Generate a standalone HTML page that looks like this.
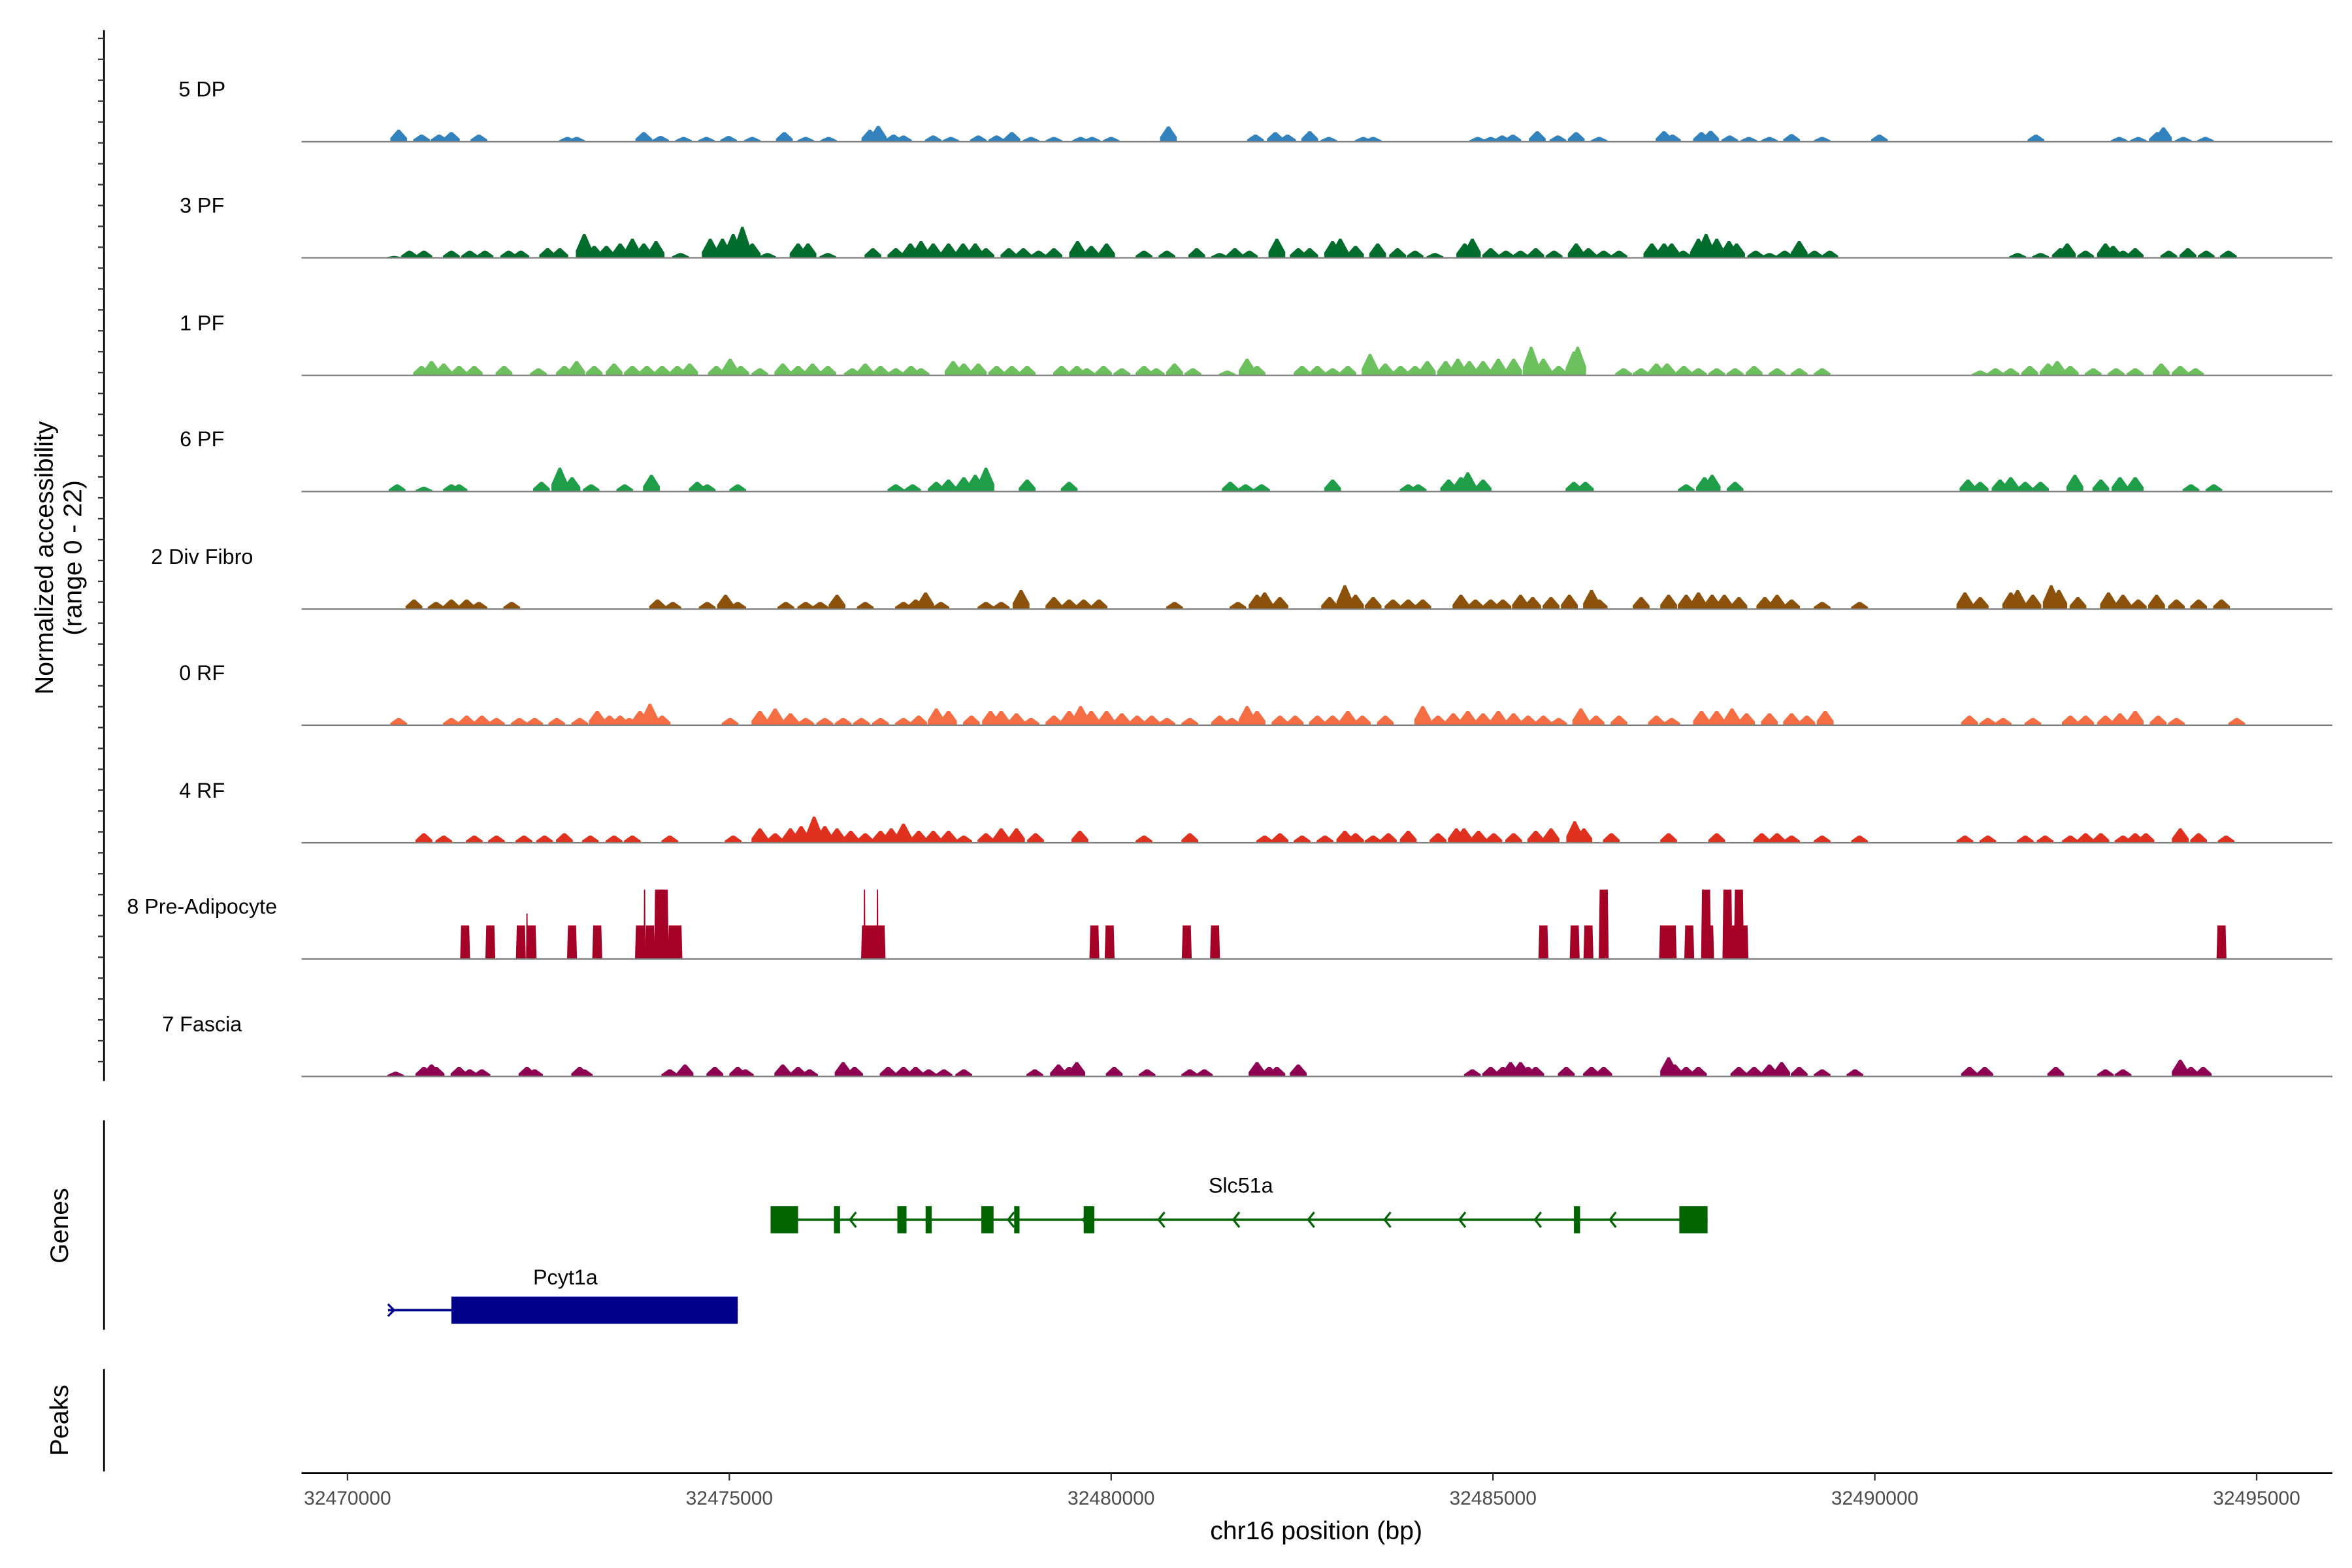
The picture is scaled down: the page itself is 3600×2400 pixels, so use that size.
<!DOCTYPE html>
<html><head><meta charset="utf-8">
<style>
html,body{margin:0;padding:0;background:#fff;}
svg{display:block;}
text{font-family:"Liberation Sans",Arial,sans-serif;}
</style></head>
<body>
<svg id="chart" width="3600" height="2400" viewBox="0 0 1560 1040" xmlns="http://www.w3.org/2000/svg">
<g id="axes"></g>
<g id="tracks"></g>
<g id="genes"></g>
</svg>
<script>
// ---- data (positions in kb offset from 32470000, values in normalized units) ----
const baseBp = 32470000;
const trackNames = ["5 DP","3 PF","1 PF","6 PF","2 Div Fibro","0 RF","4 RF","8 Pre-Adipocyte","7 Fascia"];
const trackColors = ["#3182bd","#006d2c","#6cc15e","#1f9e4a","#8c510a","#f46d43","#e0301e","#a50026","#8e0152"];
const xTickValues = [32470000,32475000,32480000,32485000,32490000,32495000];

const pos5DP = [0.67,0.97,1.2,1.36,1.72,2.88,3.0,3.88,4.1,4.4,4.7,4.99,5.3,5.72,6.0,6.3,6.84,6.95,7.15,7.28,7.67,7.9,8.26,8.5,8.7,8.95,9.25,9.6,9.75,10.0,10.75,11.89,12.15,12.31,12.6,12.85,13.3,13.43,14.8,14.97,15.12,15.26,15.58,15.85,16.09,16.39,17.24,17.35,17.73,17.85,18.1,18.35,18.62,18.91,19.31,20.06,22.11,23.2,23.45,23.7,23.78,24.04,24.33];
const val5DP = [2.5,1.5,1.5,2,1.5,1,1,2,1.2,1,1,1.2,1,2,1,1,2.5,3.3,1.5,1.3,1.3,1,1.3,1.3,2,1,1,1,1,1,3.2,1.5,2,1.5,2.2,1,1,1,1,1,1.3,1.5,2.2,1.3,2,1,2.2,1.5,2,2.3,1.3,1,1,1.6,1,1.5,1.5,1,1,2,3,1,1];

const pos3PF = [0.61,0.81,1.0,1.36,1.6,1.8,2.11,2.27,2.62,2.78,3.1,3.23,3.39,3.57,3.73,3.88,4.04,4.36,4.75,4.91,5.05,5.17,5.3,5.5,5.9,6.03,6.29,6.88,7.18,7.37,7.51,7.67,7.87,8.06,8.22,8.36,8.66,8.85,9.05,9.25,9.56,9.74,9.94,10.43,10.73,11.12,11.42,11.62,11.81,12.17,12.45,12.6,12.9,13.0,13.2,13.49,13.75,13.98,14.24,14.63,14.73,14.97,15.17,15.36,15.56,15.8,16.09,16.25,16.45,16.65,17.08,17.24,17.34,17.49,17.69,17.79,17.93,18.09,18.19,18.44,18.62,18.82,19.01,19.21,19.41,21.87,22.17,22.43,22.52,22.76,23.02,23.12,23.25,23.41,23.85,24.1,24.34,24.63];
const val3PF = [0.4,1.5,1.5,1.5,1.5,1.5,1.5,1.5,2,2,5,2.5,2.5,3,4,3,3.5,1,4,4,5,6.5,3,1,3,3,1,2,2,3,3.5,3,3,3,3,2,2,2,1.5,2,3.5,2.5,3,1.5,1.5,2,1,2,1.5,4,2,2,3.5,4,2.5,3,2,1.5,1,3,4,2,1.5,1.5,2,1.5,3,2,1.5,1.5,3,3,3,1.5,4,5,4,3.5,3,1.5,1,1.5,3.5,1.5,1.5,1,1,2,3,1.5,3,2.5,1.5,2,1.5,2,1.5,1.5];

const pos1PF = [0.97,1.1,1.26,1.46,1.66,2.05,2.5,2.84,3.0,3.23,3.49,3.73,3.92,4.12,4.32,4.48,4.83,5.01,5.15,5.4,5.7,5.9,6.09,6.29,6.61,6.78,6.98,7.18,7.38,7.51,7.93,8.07,8.26,8.5,8.7,8.9,9.35,9.55,9.68,9.9,10.14,10.43,10.59,10.83,11.07,11.52,11.78,11.91,12.5,12.7,12.9,13.1,13.39,13.59,13.79,13.98,14.14,14.38,14.54,14.69,14.87,15.07,15.27,15.5,15.66,15.86,16.06,16.11,16.71,16.94,17.14,17.28,17.5,17.69,17.93,18.17,18.42,18.72,19.01,19.31,21.38,21.58,21.78,22.03,22.27,22.39,22.56,22.86,23.16,23.41,23.75,24.0,24.2];
const val1PF = [2,3,2.5,2,2,2,1.5,2,3,2,2.5,2,2,2,2,2.5,2,3.5,2,1.5,2.5,2,2.5,2,1.5,2.5,2,1.5,2,1.5,3,2.5,2.5,2,2,2,2,2,1.5,2,1.5,2,1.5,2.5,1.5,1,3.5,2,2,2,1.5,2,4.5,2.5,2,2,3,3,3.5,3,3,3.5,3.5,6,3.5,2,5,6,1.5,1.5,2.5,2.5,2,1.5,1.5,1.5,2,1.5,1.5,1.5,1,1.5,1.5,2,2.5,3,2,1.5,1.5,1.5,2.5,2,1.5];

const pos6PF = [0.65,1.0,1.36,1.46,2.54,2.78,2.94,3.19,3.63,3.98,4.58,4.71,5.11,7.18,7.4,7.71,7.87,8.07,8.22,8.36,8.9,9.45,11.56,11.76,11.97,12.9,13.89,14.02,14.42,14.58,14.67,14.87,16.06,16.21,17.53,17.77,17.87,18.17,21.22,21.38,21.64,21.78,21.97,22.17,22.62,22.96,23.21,23.41,24.14,24.44];
const val6PF = [1.5,1,1.5,1.5,2,5,3,1.5,1.5,3.5,2,1.5,1.5,1.5,1.5,2,2.5,3,3.5,5,2.5,2,2,1.5,1.5,2.5,1.5,1.5,2.5,3,4,2.5,2,2,1.5,3,3.5,2,2.5,2,2.5,3,2,2,3.5,2.5,3,3,1.5,1.5];

const posDiv = [0.87,1.16,1.36,1.56,1.72,2.15,4.06,4.26,4.71,4.95,5.11,5.74,6.0,6.19,6.41,6.78,7.28,7.44,7.57,7.77,8.36,8.56,8.82,9.25,9.45,9.64,9.84,10.83,11.66,11.91,12.01,12.21,12.86,13.06,13.2,13.43,13.69,13.89,14.08,14.58,14.77,14.97,15.13,15.36,15.52,15.76,16.0,16.29,16.39,16.94,17.3,17.53,17.69,17.87,18.03,18.22,18.56,18.72,18.91,19.31,19.8,21.18,21.38,21.78,21.87,22.07,22.31,22.41,22.66,23.06,23.25,23.45,23.69,23.95,24.24,24.54];
const valDiv = [2,1.5,2,2,1.5,1.5,2,1.5,1.5,3,1.5,1.5,1.5,1.5,3,1.5,1.5,2,3.5,1.5,1.5,1.5,4,2.5,2,2,2,1.5,1.5,3,3.5,2.5,2.5,5,3,2.5,2,2,2,3,2,2,2,3,2.5,2.5,3,4,2,2.5,3,3,3.5,3,3,2.5,2.5,3,2,1.5,1.5,3.5,2.5,3.5,4,3,5,4,2.5,3.5,3,2,3,2,2,2];

const pos0RF = [0.67,1.36,1.56,1.76,1.95,2.25,2.45,2.74,3.04,3.27,3.43,3.57,3.69,3.83,3.96,4.12,5.01,5.4,5.6,5.8,6.0,6.25,6.49,6.73,6.98,7.28,7.48,7.71,7.87,8.17,8.42,8.56,8.76,8.95,9.25,9.45,9.6,9.74,9.94,10.14,10.34,10.53,10.73,11.03,11.42,11.58,11.78,11.91,12.21,12.41,12.7,12.9,13.1,13.29,13.59,14.08,14.28,14.48,14.67,14.87,15.07,15.27,15.46,15.66,15.86,16.15,16.35,16.65,17.14,17.34,17.73,17.93,18.13,18.32,18.62,18.91,19.11,19.35,21.24,21.48,21.68,22.07,22.56,22.76,23.02,23.21,23.41,23.71,23.95,24.74];
const val0RF = [1.5,1.5,2,2,1.5,1.5,1.5,1.5,1.5,3,2,2,1.5,3,4.5,2,1.5,3,3.5,2.5,1.5,1.5,1.5,1.5,1.5,1.5,2,3.5,3,2,3,3,2.5,1.5,2,3,4,3,3,2.5,2,2,1.5,1.5,2,1.5,4,3,2,2,2,2,3,2,2,4,2,2.5,3,2.5,3,2.5,2,2,1.5,3.5,2,2,2,1.5,3,3,3.5,2.5,2.5,2.5,2,3,2,1.5,1.5,1.5,2,2,2,2.5,3,2,1.5,1.5];

const pos4RF = [1.0,1.26,1.66,1.95,2.31,2.58,2.84,3.18,3.49,3.73,4.22,5.05,5.4,5.6,5.8,5.94,6.11,6.25,6.41,6.59,6.78,6.98,7.12,7.28,7.48,7.67,7.87,8.07,8.36,8.56,8.76,9.01,9.59,10.43,11.03,12.01,12.21,12.5,12.8,13.06,13.2,13.43,13.63,13.89,14.28,14.52,14.62,14.81,15.01,15.27,15.56,15.76,16.07,16.19,16.55,17.3,17.93,18.52,18.72,18.91,19.31,19.8,21.18,21.48,21.97,22.23,22.56,22.76,22.96,23.25,23.41,23.55,24.0,24.24,24.6];
const val4RF = [2,1.5,1.5,1.5,1.5,1.5,2,1.5,1.5,1.5,1.5,1.5,3,2,3,3.5,5.5,3.5,3,2.5,2,2.5,3,4,2.5,2.5,2.5,1.5,2,3,3,2,2.5,1.5,2,1.5,2,1.5,1.5,2.5,2,1.5,2,2.5,2,3,3,2.5,2,2,2.5,3,4.5,3,2,2,2,2,2,1.5,1.5,1.5,1.5,1.5,1.5,1.5,1.5,2,2,1.5,2,2,3,2,1.5];

const posPre = [1.54,1.87,2.27,2.35,2.41,2.94,3.27,3.83,3.89,3.96,4.08,4.14,4.26,4.32,6.77,6.79,6.88,6.94,6.98,9.78,9.98,10.99,11.36,15.66,16.07,16.25,16.45,17.24,17.34,17.57,17.79,17.83,18.07,18.13,18.22,18.28,24.54];
const valPre = [7,7,7,9.5,7,7,7,7,14.5,7,14.5,14.5,7,7,14.5,7,7,14.5,7,7,7,7,7,7,7,7,14.5,7,7,7,14.5,7,14.5,7,14.5,7,7];
const thinPre = [0,0,0,1,0,0,0,0,1,0,0,0,0,0,1,0,0,1,0,0,0,0,0,0,0,0,0,0,0,0,0,0,0,0,0,0,0];

const posFas = [0.63,1.0,1.1,1.16,1.46,1.6,1.76,2.35,2.45,3.04,3.1,4.22,4.42,4.81,5.11,5.21,5.7,5.9,6.05,6.49,6.64,7.08,7.28,7.44,7.61,7.81,8.07,9.0,9.31,9.45,9.55,10.04,10.47,11.03,11.22,11.91,12.07,12.17,12.45,14.73,14.97,15.13,15.23,15.36,15.46,15.56,15.96,16.29,16.45,17.3,17.38,17.53,17.69,18.22,18.42,18.62,18.78,19.01,19.31,19.74,21.24,21.44,22.37,23.02,23.25,24.0,24.14,24.3];
const valFas = [1,2,2.5,2,2,1.5,1.5,2,1.5,2,1.5,1.5,2.5,2,2,1.5,2.5,2,1.5,3,2,2,2,2,1.5,1.5,1.5,1.5,2.5,2,3,2,1.5,1.5,1.5,3,2,2,2.5,1.5,2,2,3,3,2,2,2,2,2,4,2.5,2,2,2,2,2.5,3,2,1.5,1.5,2,2,2,1.5,1.5,3.5,2,2];

const trackPos = [pos5DP,pos3PF,pos1PF,pos6PF,posDiv,pos0RF,pos4RF,posPre,posFas];
const trackVal = [val5DP,val3PF,val1PF,val6PF,valDiv,val0RF,val4RF,valPre,valFas];

// genes (kb offsets)
const slcExonStart = [5.54,6.37,7.2,7.57,8.3,8.73,9.64,16.06,17.44];
const slcExonEnd   = [5.9,6.45,7.32,7.65,8.46,8.8,9.78,16.14,17.81];
const slcArrows = [6.6,8.67,9.65,10.64,11.62,12.6,13.6,14.58,15.57,16.55];
const pcytStart = 0.53, pcytCdsStart = 1.36, pcytEnd = 5.11;
const slcStart = 5.54, slcEnd = 17.81;

// ---- scales ----
const NS = "http://www.w3.org/2000/svg";
const X0 = 230.5, PXKB = 50.65;
function xKb(kb){ return X0 + kb*PXKB; }
function xBp(bp){ return xKb((bp-baseBp)/1000); }
const PX_PER_UNIT = 3.17;
function yVal(base,v){ return base - v*PX_PER_UNIT; }
const baselines = [94,171,249,326,404,481,559,636,714];
const plotL = 200, plotR = 1547;

function mk(tag, attrs, parent){ const e=document.createElementNS(NS,tag); for(const k in attrs) e.setAttribute(k,attrs[k]); parent.appendChild(e); return e; }

const axes = document.getElementById('axes');
const tracks = document.getElementById('tracks');
const genes = document.getElementById('genes');

// left axis
let la = mk('line',{x1:69,y1:20,x2:69,y2:717,stroke:'#000','stroke-width':1.2},axes);


for(let y=25.5; y<=717; y+=13.85){
  const t = mk('line',{x1:65,y1:y,x2:69,y2:y,stroke:'#333','stroke-width':1},axes);
  
  
}
let yt = mk('text',{x:0,y:0,'font-size':17,'text-anchor':'middle',transform:'translate(35,370) rotate(-90)'},axes);


yt.innerHTML = '<tspan x="0" dy="0">Normalized accessibility</tspan><tspan x="0" dy="19">(range 0 - 22)</tspan>';

let ga = mk('line',{x1:69,y1:743,x2:69,y2:882,stroke:'#000','stroke-width':1.2},axes);


let gt = mk('text',{x:0,y:0,'font-size':17,'text-anchor':'middle',transform:'translate(45,813) rotate(-90)'},axes);
gt.textContent='Genes';


let pa = mk('line',{x1:69,y1:908,x2:69,y2:976,stroke:'#000','stroke-width':1.2},axes);


let pt = mk('text',{x:0,y:0,'font-size':17,'text-anchor':'middle',transform:'translate(45,942) rotate(-90)'},axes);
pt.textContent='Peaks';



// x axis
let xa = mk('line',{x1:plotL,y1:977,x2:plotR,y2:977,stroke:'#000','stroke-width':1.2},axes);


xTickValues.forEach(v=>{
  const x = xBp(v);
  const t = mk('line',{x1:x,y1:977,x2:x,y2:982,stroke:'#333','stroke-width':1},axes);
  
  
  const l = mk('text',{x:x,y:998,'font-size':13,'text-anchor':'middle',fill:'#4d4d4d'},axes);
  l.textContent = String(v);
  
  
});
let xt = mk('text',{x:873,y:1021,'font-size':17,'text-anchor':'middle'},axes);
xt.textContent='chr16 position (bp)';



// tracks
trackNames.forEach((name,i)=>{
  const g = mk('g',{},tracks);
  
  
  const base = baselines[i];
  const lab = mk('text',{x:134,y:base-30,'font-size':14,'text-anchor':'middle'},g);
  lab.textContent = name;
  
  
  const P = trackPos[i], V = trackVal[i], col = trackColors[i];
  P.forEach((p,j)=>{
    const v = V[j];
    let pts;
    if(i===7){
      if(thinPre[j]){
        const xc=xKb(p);
        pts = `${xc-0.6},${base} ${xc-0.4},${yVal(base,v)} ${xc+0.4},${yVal(base,v)} ${xc+0.6},${base}`;
      } else {
        const a=xKb(p-0.065), b=xKb(p+0.065);
        pts = `${a},${base} ${a+0.6},${yVal(base,v)} ${b-0.6},${yVal(base,v)} ${b},${base}`;
      }
    } else {
      const a=xKb(p-0.11), b=xKb(p+0.11), c=xKb(p-0.015), d=xKb(p+0.015);
      pts = `${a},${base} ${a},${yVal(base,v*0.3)} ${c},${yVal(base,v)} ${d},${yVal(base,v)} ${b},${yVal(base,v*0.3)} ${b},${base}`;
    }
    const pk = mk('polygon',{points:pts,fill:col},g);
    
    
  });
  const bl = mk('line',{x1:plotL,y1:base,x2:plotR,y2:base,stroke:'#808080','stroke-width':1},g);
  
  
});

// genes
const gSlc = mk('g',{},genes);


const slcY = 809, slcCol = '#006400';
let sl = mk('line',{x1:xKb(slcStart),y1:slcY,x2:xKb(slcEnd),y2:slcY,stroke:slcCol,'stroke-width':1.6},gSlc);


slcExonStart.forEach((s,k)=>{
  const a=xKb(s), b=xKb(slcExonEnd[k]);
  const r = mk('rect',{x:a,y:slcY-9,width:Math.max(b-a,2.5),height:18,fill:slcCol},gSlc);
  
  
});
slcArrows.forEach(p=>{
  const x=xKb(p);
  const ar = mk('polyline',{points:`${x+3},${slcY-5} ${x-1},${slcY} ${x+3},${slcY+5}`,fill:'none',stroke:slcCol,'stroke-width':1.4},gSlc);
  
  
});
let slt = mk('text',{x:823,y:791,'font-size':14,'text-anchor':'middle'},gSlc);
slt.textContent='Slc51a';



const gP = mk('g',{},genes);


const pY = 869, pCol = '#00008b';
let pl = mk('line',{x1:xKb(pcytStart),y1:pY,x2:xKb(pcytEnd),y2:pY,stroke:pCol,'stroke-width':1.6},gP);


let pr = mk('rect',{x:xKb(pcytCdsStart),y:pY-9,width:xKb(pcytEnd)-xKb(pcytCdsStart),height:18,fill:pCol},gP);


const ax = xKb(pcytStart);
let par = mk('polyline',{points:`${ax},${pY-4} ${ax+4},${pY} ${ax},${pY+4}`,fill:'none',stroke:pCol,'stroke-width':1.4},gP);


let pla = mk('text',{x:375,y:852,'font-size':14,'text-anchor':'middle'},gP);
pla.textContent='Pcyt1a';


</script>
</body></html>
